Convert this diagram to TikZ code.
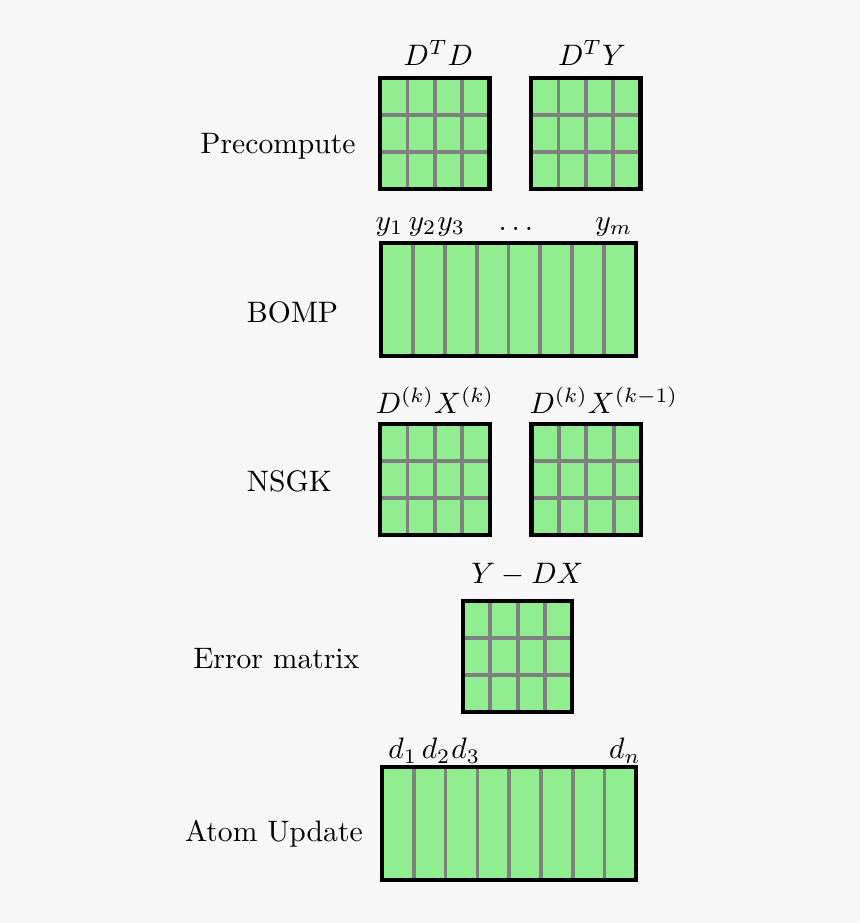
\documentclass[tikz,border=0pt]{standalone}
\definecolor{matgreen}{HTML}{90EE90}
\definecolor{bggray}{HTML}{F7F7F7}

\begin{document}
\begin{tikzpicture}[
            frame/.style={draw=black, line width=1.4pt, fill=matgreen,
                    inner sep=0pt, outer sep=0pt},
            cellline/.style={draw=gray, line width=1.25pt},
            gridmat/.style={frame, minimum width=1.30cm, minimum height=1.32cm,
                    path picture={
                            \foreach \i in {1,2,3}
                                \draw[cellline] ([xshift=\i*0.325cm]path picture bounding box.north west) -- ++(0,-2);
                            \foreach \j in {1,2}
                                \draw[cellline] ([yshift=-\j*0.44cm]path picture bounding box.north west) -- ++(2,0);
                        }},
            colmat/.style={frame, minimum width=3.02cm, minimum height=1.34cm,
                    path picture={
                            \foreach \i in {1,...,7}
                                \draw[cellline] ([xshift=\i*0.3775cm]path picture bounding box.north west) -- ++(0,-2);
                        }},
            rowlabel/.style={anchor=base},
            matlabel/.style={anchor=base}
        ]
        \path[fill=bggray] (0,0) rectangle (10.21,-10.96);

        % row names
        \node[rowlabel] (pre) at (3.301,-1.821) {Precompute};
        \node[rowlabel] (omp) at (3.473,-3.831) {BOMP};
        \node[rowlabel] (ksvd) at (3.436,-5.838) {NSGK};
        \node[rowlabel] (res) at (3.281,-7.936) {Error matrix};
        \node[rowlabel] (upd) at (3.252,-9.994) {Atom Update};

        % matrices
        \node[gridmat] (dtd) at (5.162,-1.583) {};
        \node[gridmat] (dty) at (6.956,-1.583) {};
        \node[colmat] (bomp) at (6.038,-3.553) {};
        \node[gridmat] (dxk) at (5.165,-5.690) {};
        \node[gridmat] (dxkm) at (6.962,-5.690) {};
        \node[gridmat] (err) at (6.147,-7.792) {};
        \node[colmat] (atoms) at (6.046,-9.782) {};

        % matrix names
        \node[matlabel] (ldtd) at (5.205,-0.780) {$D^T D$};
        \node[matlabel] (ldty) at (7.030,-0.780) {$D^T Y$};
        \node[matlabel] (ly1) at (4.625,-2.735) {$y_1$};
        \node[matlabel] (ly2) at (5.017,-2.735) {$y_2$};
        \node[matlabel] (ly3) at (5.358,-2.735) {$y_3$};
        \node[matlabel] (lydots) at (6.125,-2.735) {$\ldots$};
        \node[matlabel] (lym) at (7.288,-2.735) {$y_m$};
        \node[matlabel] (ldxk) at (5.165,-4.908) {$D^{(k)} X^{(k)}$};
        \node[matlabel] (ldxkm) at (7.170,-4.908) {$D^{(k)} X^{(k-1)}$};
        \node[matlabel] (lerr) at (6.264,-6.934) {$Y - DX$};
        \node[matlabel] (ld1) at (4.783,-9.012) {$d_1$};
        \node[matlabel] (ld2) at (5.179,-9.012) {$d_2$};
        \node[matlabel] (ld3) at (5.531,-9.012) {$d_3$};
        \node[matlabel] (ldn) at (7.421,-9.012) {$d_n$};
    \end{tikzpicture}
\end{document}
